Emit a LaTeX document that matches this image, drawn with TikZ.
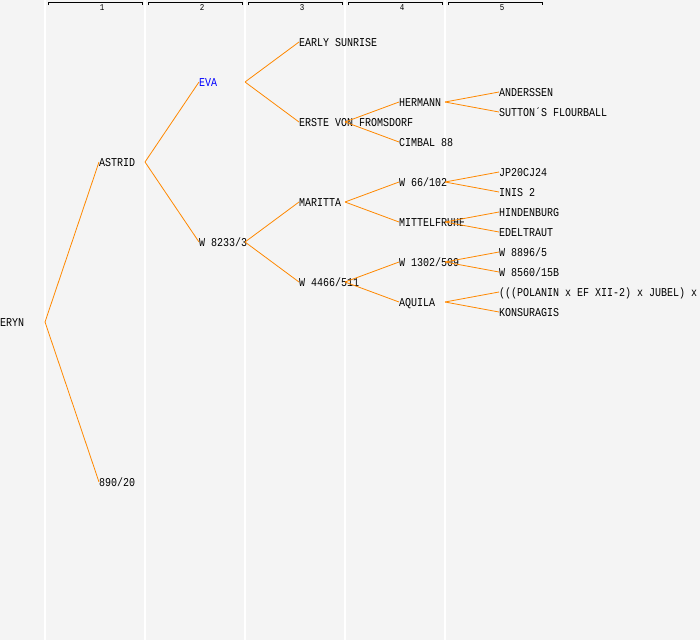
\documentclass[tikz,border=0pt]{standalone}
\usepackage{fontspec}
\newfontfamily\pedfont[FakeStretch=0.8333]{Liberation Mono}
\usepackage{xcolor}
\usetikzlibrary{arrows}
\definecolor{bggray}{HTML}{F4F4F4}
\definecolor{linkorange}{HTML}{FF8800}

\begin{document}
\begin{tikzpicture}[x=1pt, y=-1pt,
	nm/.style={anchor=west, inner sep=0pt, text height=8pt, text depth=0pt, font=\pedfont\fontsize{12}{12}\selectfont},
	link/.style={draw=linkorange, line width=0.8pt}]
	\fill [bggray] (0,0) rectangle (700,640);
	\useasboundingbox (0,0) rectangle (700,640);
	% generation columns and their heads
	\foreach \c in {1,...,5} {
		\coordinate (c\c) at (\c*100-55, 0);
		\draw [white, line width=1.3pt] (c\c) -- ++(0,640);
		\draw [black, line width=0.9pt] (\c*100-52,5) -- (\c*100-52,2) -- (\c*100+42,2) -- (\c*100+42,5);
		\node [inner sep=0pt, font=\pedfont\fontsize{9}{9}\selectfont] (n\c) at (\c*100+2,7.5) {\c};
	}
	\node [nm] (0) at (0, 322) {ERYN};
	\node [nm] (1) at (99, 162) {ASTRID};
	\node [nm] (2) at (99, 482) {890/20};
	\node [nm, text=blue] (3) at (199, 82) {EVA};
	\node [nm] (4) at (199, 242) {W 8233/3};
	\node [nm] (5) at (299, 42) {EARLY SUNRISE};
	\node [nm] (6) at (299, 122) {ERSTE VON FROMSDORF};
	\node [nm] (7) at (299, 202) {MARITTA};
	\node [nm] (8) at (299, 282) {W 4466/511};
	\node [nm] (9) at (399, 102) {HERMANN};
	\node [nm] (10) at (399, 142) {CIMBAL 88};
	\node [nm] (11) at (399, 182) {W 66/102};
	\node [nm] (12) at (399, 222) {MITTELFRUHE};
	\node [nm] (13) at (399, 262) {W 1302/509};
	\node [nm] (14) at (399, 302) {AQUILA};
	\node [nm] (15) at (499, 92) {ANDERSSEN};
	\node [nm] (16) at (499, 112) {SUTTON´S FLOURBALL};
	\node [nm] (17) at (499, 172) {JP20CJ24};
	\node [nm] (18) at (499, 192) {INIS 2};
	\node [nm] (19) at (499, 212) {HINDENBURG};
	\node [nm] (20) at (499, 232) {EDELTRAUT};
	\node [nm] (21) at (499, 252) {W 8896/5};
	\node [nm] (22) at (499, 272) {W 8560/15B};
	\node [nm] (23) at (499, 292) {(((POLANIN x EF XII-2) x JUBEL) x};
	\node [nm] (24) at (499, 312) {KONSURAGIS};
	\draw [link] (0.west -| c1) -- (1.west);
	\draw [link] (0.west -| c1) -- (2.west);
	\draw [link] (1.west -| c2) -- (3.west);
	\draw [link] (1.west -| c2) -- (4.west);
	\draw [link] (3.west -| c3) -- (5.west);
	\draw [link] (3.west -| c3) -- (6.west);
	\draw [link] (4.west -| c3) -- (7.west);
	\draw [link] (4.west -| c3) -- (8.west);
	\draw [link] (6.west -| c4) -- (9.west);
	\draw [link] (6.west -| c4) -- (10.west);
	\draw [link] (7.west -| c4) -- (11.west);
	\draw [link] (7.west -| c4) -- (12.west);
	\draw [link] (8.west -| c4) -- (13.west);
	\draw [link] (8.west -| c4) -- (14.west);
	\draw [link] (9.west -| c5) -- (15.west);
	\draw [link] (9.west -| c5) -- (16.west);
	\draw [link] (11.west -| c5) -- (17.west);
	\draw [link] (11.west -| c5) -- (18.west);
	\draw [link] (12.west -| c5) -- (19.west);
	\draw [link] (12.west -| c5) -- (20.west);
	\draw [link] (13.west -| c5) -- (21.west);
	\draw [link] (13.west -| c5) -- (22.west);
	\draw [link] (14.west -| c5) -- (23.west);
	\draw [link] (14.west -| c5) -- (24.west);
\end{tikzpicture}
\end{document}
